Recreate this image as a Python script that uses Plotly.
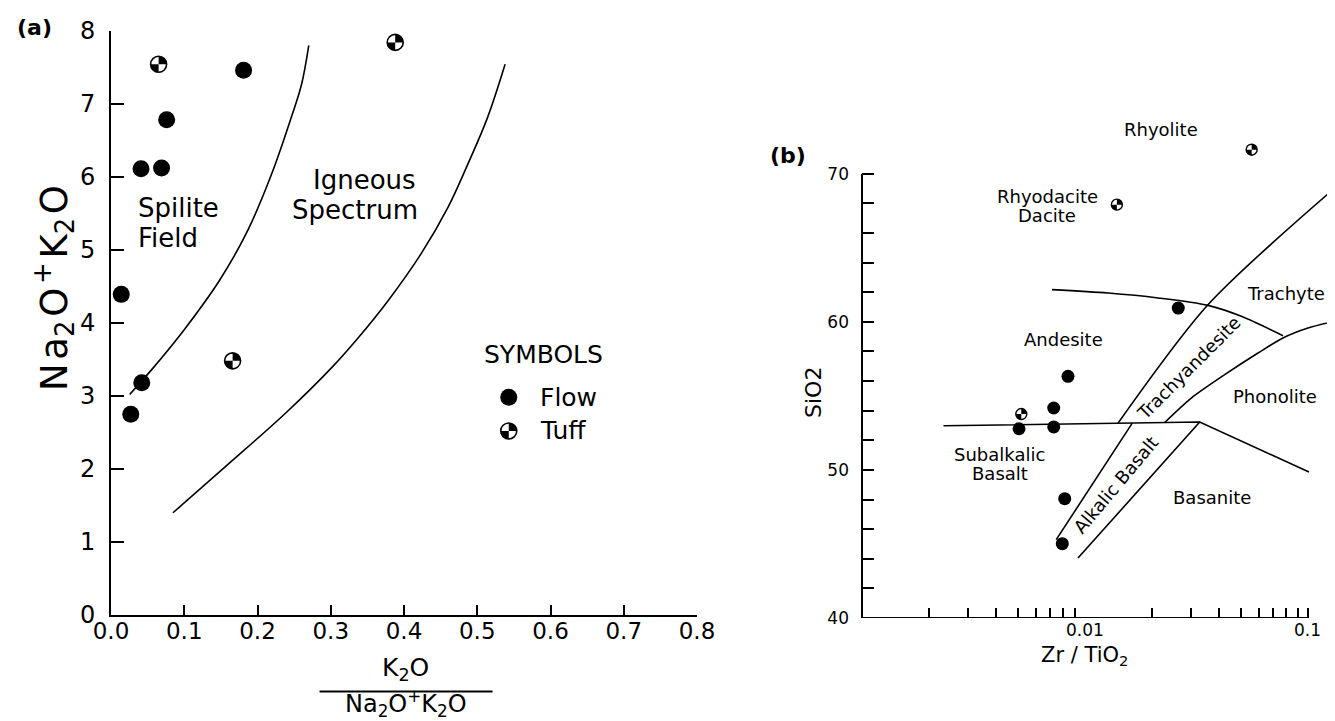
import math
import plotly.graph_objects as go

# ---------------- data: panel (a) ----------------
flow_a_x = [0.181, 0.076, 0.041, 0.069, 0.014, 0.042, 0.027]
flow_a_y = [7.46, 6.78, 6.11, 6.12, 4.39, 3.18, 2.75]
tuff_a_x = [0.065, 0.388, 0.166]
tuff_a_y = [7.54, 7.84, 3.48]

spilite_x = [0.0255, 0.0573, 0.101, 0.1487, 0.1869, 0.219, 0.246, 0.260, 0.270]
spilite_y = [3.02, 3.38, 3.92, 4.59, 5.27, 6.03, 6.81, 7.26, 7.80]
igneous_x = [0.0846, 0.155, 0.24, 0.3006, 0.337, 0.378, 0.423, 0.460, 0.487, 0.514, 0.538]
igneous_y = [1.40, 2.02, 2.78, 3.38, 3.79, 4.30, 4.94, 5.58, 6.17, 6.81, 7.54]

xa_ticks = [0.0, 0.1, 0.2, 0.3, 0.4, 0.5, 0.6, 0.7, 0.8]
ya_ticks = [0, 1, 2, 3, 4, 5, 6, 7, 8]

# ---------------- data: panel (b) ----------------
flow_b_x = [0.0262, 0.00839, 0.00724, 0.00724, 0.00506, 0.00811, 0.00791]
flow_b_y = [60.93, 56.32, 54.18, 52.90, 52.78, 48.06, 45.02]
tuff_b_x = [0.0559, 0.0139, 0.00518]
tuff_b_y = [71.62, 67.91, 53.77]

sub_line_x = [0.00232, 0.0327, 0.101]
sub_line_y = [52.98, 53.23, 49.86]
alk_left_x = [0.00743, 0.01629]
alk_left_y = [45.29, 53.16]
alk_right_x = [0.0093, 0.0327]
alk_right_y = [44.05, 53.23]
trach_left_x = [0.01406, 0.0356, 0.1318]
trach_left_y = [53.15, 61.15, 69.03]
andesite_arc_x = [0.00711, 0.01268, 0.02124, 0.03562, 0.05026, 0.07727]
andesite_arc_y = [62.17, 61.94, 61.61, 61.11, 60.37, 59.06]
phonolite_arc_x = [0.02277, 0.02997, 0.04231, 0.05968, 0.07725, 0.1, 0.141]
phonolite_arc_y = [53.20, 54.85, 56.43, 57.89, 58.91, 59.58, 60.14]

xb_minor_ticks = [0.002, 0.003, 0.004, 0.005, 0.006, 0.007, 0.008, 0.009,
                  0.02, 0.03, 0.04, 0.05, 0.06, 0.07, 0.08, 0.09, 0.1]
xb_labels = ["0.01", "0.1"]
xb_label_vals = [0.01, 0.1]
yb_major_ticks = [40, 50, 60, 70]
yb_minor_ticks = [v for v in range(42, 70, 2) if v % 10 != 0]

# ---------------- styling ----------------
W, H = 1335, 721
FONT = "DejaVu Sans"
BLACK = "black"
YB_TOP = 74.0                      # panel (b) y range extends above the 70 axis end
YB_PX40, YB_PXPU = 610.0, 14.81    # pixel of y=40 and pixels per unit in panel (b)

fig = go.Figure()
line_style = dict(color=BLACK, width=1.6)

# panel (a) curves
fig.add_trace(go.Scatter(x=spilite_x, y=spilite_y, mode="lines", line=dict(shape="spline", smoothing=1.0, **line_style),
                         xaxis="x", yaxis="y", showlegend=False, hoverinfo="skip"))
fig.add_trace(go.Scatter(x=igneous_x, y=igneous_y, mode="lines", line=dict(shape="spline", smoothing=1.0, **line_style),
                         xaxis="x", yaxis="y", showlegend=False, hoverinfo="skip"))
# panel (a) points
fig.add_trace(go.Scatter(x=flow_a_x, y=flow_a_y, mode="markers", name="Flow",
                         marker=dict(symbol="circle", size=17, color=BLACK, line=dict(width=0)),
                         xaxis="x", yaxis="y", showlegend=False, cliponaxis=False))
fig.add_trace(go.Scatter(x=tuff_a_x, y=tuff_a_y, mode="markers", name="Tuff",
                         marker=dict(symbol="circle", size=16, color="white", line=dict(width=1.6, color=BLACK)),
                         xaxis="x", yaxis="y", showlegend=False, cliponaxis=False))

# panel (b) lines
for xs, ys, shp in [(sub_line_x, sub_line_y, "linear"), (alk_left_x, alk_left_y, "linear"),
                    (alk_right_x, alk_right_y, "linear"), (trach_left_x, trach_left_y, "spline"),
                    (andesite_arc_x, andesite_arc_y, "spline"), (phonolite_arc_x, phonolite_arc_y, "spline")]:
    fig.add_trace(go.Scatter(x=xs, y=ys, mode="lines", line=dict(shape=shp, smoothing=0.8, **line_style),
                             xaxis="x2", yaxis="y2", showlegend=False, hoverinfo="skip"))
fig.add_trace(go.Scatter(x=flow_b_x, y=flow_b_y, mode="markers", name="Flow",
                         marker=dict(symbol="circle", size=13, color=BLACK, line=dict(width=0)),
                         xaxis="x2", yaxis="y2", showlegend=False, cliponaxis=False))
fig.add_trace(go.Scatter(x=tuff_b_x, y=tuff_b_y, mode="markers", name="Tuff",
                         marker=dict(symbol="circle", size=11, color="white", line=dict(width=1.4, color=BLACK)),
                         xaxis="x2", yaxis="y2", showlegend=False, cliponaxis=False))

# quartered tuff symbol: fill NE and SW quadrants
def quadrants(r):
    k = 0.5523 * r
    ne = f"M0,0 L0,{r} C{k},{r} {r},{k} {r},0 Z"
    sw = f"M0,0 L0,{-r} C{-k},{-r} {-r},{-k} {-r},0 Z"
    return [ne, sw]

shapes = []
def add_tuff_shapes(xs, ys, xref, yref, r):
    for x, y in zip(xs, ys):
        for p in quadrants(r):
            shapes.append(dict(type="path", path=p, xref=xref, yref=yref, xsizemode="pixel", ysizemode="pixel",
                               xanchor=x, yanchor=y, fillcolor=BLACK, line=dict(width=0), layer="above"))

add_tuff_shapes(tuff_a_x, tuff_a_y, "x", "y", 8.0)
add_tuff_shapes(tuff_b_x, tuff_b_y, "x2", "y2", 5.3)

# panel (b) axis lines (x ends at 0.1, y ends at 70)
shapes.append(dict(type="line", xref="x2 domain", yref="y2", x0=0, x1=2 / (3 - 0.843), y0=40, y1=40,
                   line=dict(color=BLACK, width=2)))
shapes.append(dict(type="line", xref="x2 domain", yref="y2", x0=0, x1=0, y0=40, y1=70,
                   line=dict(color=BLACK, width=2)))

# legend (panel a)
LEG_MX, LEG_TX = 0.543, 0.583
LEG_FLOW_Y, LEG_TUFF_Y = 2.98, 2.52
shapes.append(dict(type="circle", xref="x", yref="y", xsizemode="pixel", ysizemode="pixel",
                   xanchor=LEG_MX, yanchor=LEG_FLOW_Y, x0=-8.5, x1=8.5, y0=-8.5, y1=8.5,
                   fillcolor=BLACK, line=dict(width=0)))
shapes.append(dict(type="circle", xref="x", yref="y", xsizemode="pixel", ysizemode="pixel",
                   xanchor=LEG_MX, yanchor=LEG_TUFF_Y, x0=-8, x1=8, y0=-8, y1=8,
                   fillcolor="white", line=dict(width=1.6, color=BLACK)))
for p in quadrants(8.0):
    shapes.append(dict(type="path", path=p, xref="x", yref="y", xsizemode="pixel", ysizemode="pixel",
                       xanchor=LEG_MX, yanchor=LEG_TUFF_Y, fillcolor=BLACK, line=dict(width=0)))

# fraction bar of the x title (panel a)
shapes.append(dict(type="line", xref="x", yref="paper", x0=0.2847, x1=0.5209, y0=1 - 683.5 / H, y1=1 - 683.5 / H,
                   line=dict(color=BLACK, width=2)))

def ann(text, x, y, size, xref="x", yref="y", xanchor="center", yanchor="middle", angle=0, bold=False, align="center"):
    return dict(text=text, x=x, y=y, xref=xref, yref=yref, xanchor=xanchor, yanchor=yanchor,
                textangle=angle, showarrow=False, align=align,
                font=dict(family=FONT, size=size, color=BLACK, weight="bold" if bold else "normal"))

HS = "\u200a"
annotations = [
    ann("(a)", 26 / W, 1 - 20 / H, 22, xref="paper", yref="paper", bold=True),
    ann("(b)", 780 / W, 1 - 147 / H, 22, xref="paper", yref="paper", bold=True),
    # panel a labels
    ann("Spilite", 0.0345, 5.575, 26, xanchor="left"),
    ann("Field", 0.0345, 5.16, 26, xanchor="left"),
    ann("Igneous", 0.3465, 5.95, 26),
    ann("Spectrum", 0.333, 5.55, 26),
    ann("SYMBOLS", 0.59, 3.57, 25),
    ann("Flow", LEG_TX, LEG_FLOW_Y, 25, xanchor="left"),
    ann("Tuff", LEG_TX, LEG_TUFF_Y, 25, xanchor="left"),
    ann(f"N{HS}a<sub>2</sub>{HS}O{HS}<sup>+</sup>{HS}K<sub>2</sub>{HS}O", 45 / W, 1 - 280 / H, 37,
        xref="paper", yref="paper", angle=-90),
    ann("K<sub>2</sub>O", 0.4025, 1 - 661 / H, 25, yref="paper"),
    ann("Na<sub>2</sub>O<sup>+</sup>K<sub>2</sub>O", 0.4025, 1 - 695 / H, 24, yref="paper"),
    # panel b labels
    ann("Rhyolite", math.log10(0.02199), 72.97, 18, xref="x2", yref="y2"),
    ann("Rhyodacite", math.log10(0.00677), 68.47, 18, xref="x2", yref="y2"),
    ann("Dacite", math.log10(0.00677), 67.19, 18, xref="x2", yref="y2"),
    ann("Andesite", math.log10(0.00802), 58.79, 18, xref="x2", yref="y2"),
    ann("Trachyte", math.log10(0.0799), 61.94, 18, xref="x2", yref="y2"),
    ann("Phonolite", math.log10(0.0709), 54.97, 18, xref="x2", yref="y2"),
    ann("Trachyandesite", math.log10(0.02897), 56.88, 18, xref="x2", yref="y2", angle=-45),
    ann("Alkalic Basalt", math.log10(0.0138), 49.0, 18, xref="x2", yref="y2", angle=-50),
    ann("Subalkalic", math.log10(0.00415), 51.07, 18, xref="x2", yref="y2"),
    ann("Basalt", math.log10(0.00415), 49.79, 18, xref="x2", yref="y2"),
    ann("Basanite", math.log10(0.03724), 48.15, 18, xref="x2", yref="y2"),
    ann("SiO2", 805 / W, 1 - 385 / H, 22, xref="paper", yref="paper", angle=-90),
    ann("Zr / TiO<sub>2</sub>", -2.0, 1 - 648 / H, 21, xref="x2", yref="paper"),
]
for v, t in zip(xb_label_vals, xb_labels):
    annotations.append(ann(t, math.log10(v), 1 - 622 / H, 17, xref="x2", yref="paper"))

axis_common = dict(showgrid=False, zeroline=False, showline=True, linecolor=BLACK, linewidth=2,
                   ticks="inside", tickcolor=BLACK, tickwidth=1.6, mirror=False)

yb_dom_top = 1 - (YB_PX40 - (YB_TOP - 40) * YB_PXPU) / H

fig.update_layout(
    width=W, height=H,
    margin=dict(l=0, r=0, t=0, b=0, autoexpand=False),
    paper_bgcolor="white", plot_bgcolor="white",
    showlegend=False,
    font=dict(family=FONT, color=BLACK),
    xaxis=dict(domain=[103 / W, 689 / W], range=[0, 0.8], tickvals=xa_ticks, tickformat=".1f",
               ticklen=10, tickfont=dict(size=23, family=FONT), anchor="y", ticklabelstandoff=-6, **axis_common),
    yaxis=dict(domain=[1 - 607 / H, 1 - 22.7 / H], range=[0, 8], tickvals=ya_ticks,
               ticklen=13, tickfont=dict(size=24, family=FONT), anchor="x", ticklabelstandoff=9, **axis_common),
    xaxis2=dict(type="log", domain=[854 / W, 1.0], range=[-3, -0.843], tickvals=[],
                showticklabels=False, anchor="y2", showgrid=False, zeroline=False, showline=False,
                ticks="",
                minor=dict(tickvals=xb_minor_ticks, ticks="inside", ticklen=10, tickwidth=1.6, tickcolor=BLACK,
                           showgrid=False)),
    yaxis2=dict(domain=[1 - YB_PX40 / H, yb_dom_top], range=[40, YB_TOP], tickvals=yb_major_ticks,
                ticklen=12, tickfont=dict(size=17, family=FONT), anchor="x2", ticklabelstandoff=12,
                showgrid=False, zeroline=False, showline=False, ticks="inside", tickcolor=BLACK, tickwidth=1.6,
                minor=dict(tickvals=yb_minor_ticks, ticks="inside", ticklen=12, tickwidth=1.6, tickcolor=BLACK,
                           showgrid=False)),
    shapes=shapes,
    annotations=annotations,
)

fig.write_html("out.html")
